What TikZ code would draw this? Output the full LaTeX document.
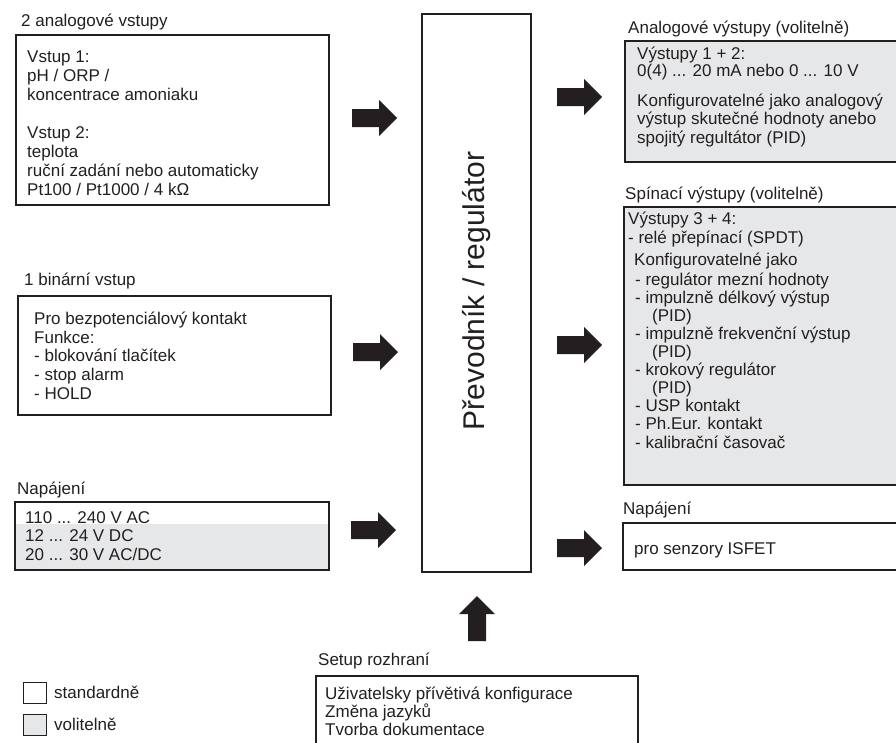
\documentclass[tikz,border=0pt]{standalone}
\usepackage{fontspec}
\setmainfont{Liberation Sans}
\definecolor{ink}{HTML}{231F20}
\definecolor{optgrey}{HTML}{E6E7E8}
\begin{document}
\begin{tikzpicture}[x=1pt,y=-1pt,
  tx/.style={anchor=base west, inner sep=0pt, text=ink, font=\fontsize{17}{18.5}\selectfont},
  boxstd/.style={draw=ink, line width=2.7pt, fill=white, inner sep=0pt},
  boxopt/.style={draw=ink, line width=2.7pt, fill=optgrey, inner sep=0pt},
  legbox/.style={draw=ink, line width=0.9pt, inner sep=0pt, minimum width=23pt, minimum height=21pt},
  blockarrow/.pic={\fill[ink] (0,-9) -- (27,-9) -- (27,-18) -- (45,0) -- (27,18) -- (27,9) -- (0,9) -- cycle;}
]
\clip (0,0) rectangle (896,742);
\fill[white] (0,0) rectangle (896,742);

% ---- left: analog inputs
\node[tx] (l1lab) at (21,26) {2 analogové vstupy};
\node[boxstd, minimum width=313pt, minimum height=170pt] (b1) at (172.5,120) {};
\node[tx] (b1a) at (27,62) {Vstup 1:};
\node[tx] (b1b) at (27,81) {pH / ORP /};
\node[tx] (b1c) at (27,100) {koncentrace amoniaku};
\node[tx] (b1d) at (27,138) {Vstup 2:};
\node[tx] (b1e) at (27,157) {teplota};
\node[tx] (b1f) at (27,176) {ruční zadání nebo automaticky};
\node[tx] (b1g) at (27,195) {Pt100 / Pt1000 / 4 kΩ};

% ---- left: binary input
\node[tx] (l2lab) at (24,285) {1 binární vstup};
\node[boxstd, minimum width=313pt, minimum height=119pt] (b2) at (174.5,355.5) {};
\node[tx] (b2a) at (34,324) {Pro bezpotenciálový kontakt};
\node[tx] (b2b) at (34,343) {Funkce:};
\node[tx] (b2c) at (34,361.5) {- blokování tlačítek};
\node[tx] (b2d) at (34,380) {- stop alarm};
\node[tx] (b2e) at (34,399) {- HOLD};

% ---- left: power supply
\node[tx] (l3lab) at (17,494) {Napájení};
\fill[optgrey] (15,524) rectangle (329,570);
\node[draw=ink, line width=2.7pt, inner sep=0pt, minimum width=314pt, minimum height=68pt] (b3) at (172,536) {};
\node[tx] (b3a) at (25,523) {110 ... 240 V AC};
\node[tx] (b3b) at (25,541) {12 ... 24 V DC};
\node[tx] (b3c) at (25,560) {20 ... 30 V AC/DC};

% ---- centre
\node[draw=ink, line width=2pt, inner sep=0pt, minimum width=109pt, minimum height=558pt] (conv) at (476.5,293) {};
\node[rotate=90, inner sep=0pt, text=ink, font=\fontsize{30}{34}\selectfont] (convtext) at (477,291) {Převodník / regulátor};

% ---- right: analog outputs
\node[tx] (r1lab) at (628,33) {Analogové výstupy (volitelně)};
\node[boxopt, minimum width=285pt, minimum height=121pt] (r1) at (767.5,101.5) {};
\node[tx] (r1a) at (637,59) {Výstupy 1 + 2:};
\node[tx] (r1b) at (637,76) {0(4) ... 20 mA nebo 0 ... 10 V};
\node[tx] (r1c) at (637,106) {Konfigurovatelné jako analogový};
\node[tx] (r1d) at (637,124) {výstup skutečné hodnoty anebo};
\node[tx] (r1e) at (637,143) {spojitý regultátor (PID)};

% ---- right: switching outputs
\node[tx] (r2lab) at (625,199) {Spínací výstupy (volitelně)};
\node[boxopt, minimum width=286pt, minimum height=278pt] (r2) at (767,346) {};
\node[tx] (r2a) at (628,224) {Výstupy 3 + 4:};
\node[tx] (r2b) at (628,243) {- relé přepínací (SPDT)};
\node[tx] (r2c) at (634,265) {Konfigurovatelné jako};
\node[tx] (r2d) at (635,285) {- regulátor mezní hodnoty};
\node[tx] (r2e) at (635,303) {- impulzně délkový výstup};
\node[tx] (r2f) at (652,321) {(PID)};
\node[tx] (r2g) at (635,339) {- impulzně frekvenční výstup};
\node[tx] (r2h) at (652,357) {(PID)};
\node[tx] (r2i) at (635,375) {- krokový regulátor};
\node[tx] (r2j) at (652,393) {(PID)};
\node[tx] (r2k) at (635,411) {- USP kontakt};
\node[tx] (r2l) at (635,429) {- Ph.Eur. kontakt};
\node[tx] (r2m) at (635,448) {- kalibrační časovač};

% ---- right: sensor supply
\node[tx] (r3lab) at (623,514) {Napájení};
\node[boxstd, minimum width=287pt, minimum height=47pt] (r3) at (766.5,546.5) {};
\node[tx] (r3a) at (634,554) {pro senzory ISFET};

% ---- bottom: setup interface
\node[tx] (slab) at (318,665) {Setup rozhraní};
\node[boxstd, minimum width=322pt, minimum height=84pt] (setup) at (477,718) {};
\node[tx] (sa) at (325,699) {Uživatelsky přívětivá konfigurace};
\node[tx] (sb) at (325,717) {Změna jazyků};
\node[tx] (sc) at (325,735) {Tvorba dokumentace};

% ---- legend
\node[legbox, fill=white] (legstd) at (34.5,692.5) {};
\node[tx] (legstdt) at (54,698) {standardně};
\node[legbox, fill=optgrey] (legopt) at (34.5,724.5) {};
\node[tx] (legoptt) at (54,730) {volitelně};

% ---- block arrows
\pic (aL1) at (352,118) {blockarrow};
\pic (aL2) at (353,352) {blockarrow};
\pic (aL3) at (351,530) {blockarrow};
\pic (aR1) at (557,97) {blockarrow};
\pic (aR2) at (557,345) {blockarrow};
\pic (aR3) at (557,548) {blockarrow};
\pic[rotate=90] (aUp) at (477,641) {blockarrow};
\end{tikzpicture}
\end{document}
